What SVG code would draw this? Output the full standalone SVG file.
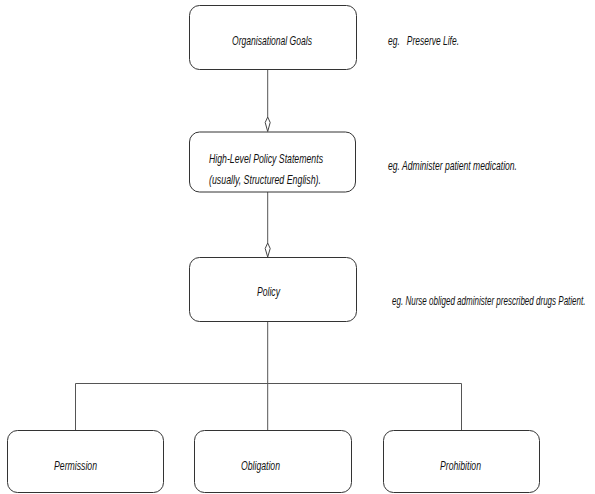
<svg xmlns="http://www.w3.org/2000/svg" width="595" height="494" viewBox="0 0 595 494">
  <style>
    .box { fill: #ffffff; stroke: #333333; stroke-width: 1; }
    .lbl { font-family: "Liberation Sans Narrow", "Liberation Sans", Arial, sans-serif; font-style: italic; font-size: 13px; fill: #111111; }
    .wire { fill: none; stroke: #555555; stroke-width: 1; }
    .agg { fill: #ffffff; stroke: #444444; stroke-width: 1; }
  </style>
  <rect width="595" height="494" fill="#ffffff"/>

  <!-- connectors -->
  <g id="connectors">
    <line class="wire" x1="267.7" y1="69" x2="267.7" y2="117"/>
    <polygon class="agg" points="267.7,117 270.2,122.5 267.7,131.5 265.2,122.5"/>
    <line class="wire" x1="267.7" y1="192" x2="267.7" y2="243"/>
    <polygon class="agg" points="267.7,243 270.2,248.5 267.7,257 265.2,248.5"/>
    <line class="wire" x1="267.7" y1="321" x2="267.7" y2="430"/>
    <polyline class="wire" points="75.5,430 75.5,383.5 461.5,383.5 461.5,430"/>
  </g>

  <!-- hierarchy nodes -->
  <g id="goals">
    <rect class="box" x="189.5" y="5.5" width="167" height="64" rx="10"/>
    <text class="lbl" x="232" y="44.5" textLength="80" lengthAdjust="spacingAndGlyphs">Organisational Goals</text>
  </g>
  <g id="statements">
    <rect class="box" x="189.5" y="132" width="166" height="60" rx="10"/>
    <text class="lbl" x="209" y="163" textLength="114" lengthAdjust="spacingAndGlyphs">High-Level Policy Statements</text>
    <text class="lbl" x="209" y="184" textLength="112" lengthAdjust="spacingAndGlyphs">(usually, Structured English).</text>
  </g>
  <g id="policy">
    <rect class="box" x="189.5" y="257.5" width="167" height="64" rx="10"/>
    <text class="lbl" x="257" y="296" textLength="23" lengthAdjust="spacingAndGlyphs">Policy</text>
  </g>
  <g id="permission">
    <rect class="box" x="7.5" y="430.5" width="156" height="62" rx="10"/>
    <text class="lbl" x="54" y="470" textLength="43" lengthAdjust="spacingAndGlyphs">Permission</text>
  </g>
  <g id="obligation">
    <rect class="box" x="194.5" y="430.5" width="157" height="62" rx="10"/>
    <text class="lbl" x="241" y="470" textLength="39" lengthAdjust="spacingAndGlyphs">Obligation</text>
  </g>
  <g id="prohibition">
    <rect class="box" x="383.5" y="430.5" width="156" height="62" rx="10"/>
    <text class="lbl" x="440" y="470" textLength="41" lengthAdjust="spacingAndGlyphs">Prohibition</text>
  </g>

  <!-- example annotations -->
  <g id="examples">
    <text class="lbl" x="388" y="45" textLength="71" lengthAdjust="spacingAndGlyphs" xml:space="preserve">eg.   Preserve Life.</text>
    <text class="lbl" x="388" y="170" textLength="129" lengthAdjust="spacingAndGlyphs">eg. Administer patient medication.</text>
    <text class="lbl" transform="translate(392,305) scale(0.75,1)" x="0" y="0" textLength="258" lengthAdjust="spacingAndGlyphs">eg. Nurse obliged administer prescribed drugs Patient.</text>
  </g>
</svg>
